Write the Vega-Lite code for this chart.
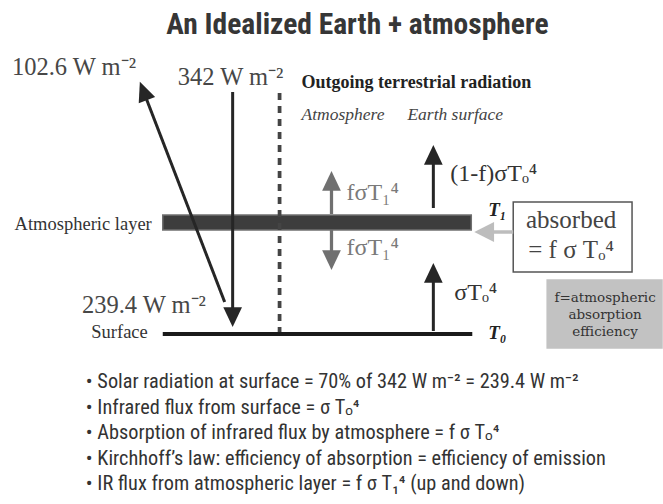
{
  "$schema": "https://vega.github.io/schema/vega-lite/v6.json",
  "width": 663,
  "height": 504,
  "autosize": {"type": "fit", "contains": "padding"},
  "padding": 0,
  "background": "#ffffff",
  "config": {"view": {"stroke": null}},
  "layer": [
    {
      "data": {"values": [
        {"name": "atmospheric layer", "x": 163, "x2": 472, "y": 215, "y2": 230},
        {"name": "absorbed box", "x": 514, "x2": 633, "y": 202, "y2": 272},
        {"name": "note box", "x": 548, "x2": 663, "y": 280, "y2": 348}
      ]},
      "mark": {"type": "rect", "strokeWidth": 1.5},
      "encoding": {
        "x": {"field": "x", "type": "quantitative", "scale": {"domain": [0, 663], "nice": false, "zero": false}, "axis": null},
        "x2": {"field": "x2"},
        "y": {"field": "y", "type": "quantitative", "scale": {"domain": [504, 0], "nice": false, "zero": false}, "axis": null},
        "y2": {"field": "y2"},
        "fill": {"field": "name", "type": "nominal", "scale": {"domain": ["atmospheric layer", "absorbed box", "note box"], "range": ["#3d3d3d", "#ffffff", "#c2c2c2"]}, "legend": null},
        "stroke": {"field": "name", "type": "nominal", "scale": {"domain": ["atmospheric layer", "absorbed box", "note box"], "range": ["#707070", "#555555", "#c2c2c2"]}, "legend": null}
      }
    },
    {
      "data": {"values": [
        {"id": "reflected", "kind": "solid", "x": 225, "y": 302, "x2": 145.5, "y2": 96},
        {"id": "incoming", "kind": "solid", "x": 233, "y": 92, "x2": 233, "y2": 312},
        {"id": "divider", "kind": "dashed", "x": 280, "y": 93, "x2": 280, "y2": 334},
        {"id": "atmosphere up", "kind": "gray", "x": 332, "y": 214, "x2": 332, "y2": 186},
        {"id": "atmosphere down", "kind": "gray", "x": 332, "y": 230, "x2": 332, "y2": 255},
        {"id": "escape", "kind": "solid", "x": 434, "y": 208, "x2": 434, "y2": 160},
        {"id": "surface up", "kind": "solid", "x": 434, "y": 331, "x2": 434, "y2": 278},
        {"id": "absorbed", "kind": "light", "x": 514, "y": 232, "x2": 490, "y2": 232},
        {"id": "surface", "kind": "surface", "x": 163, "y": 334, "x2": 473, "y2": 334}
      ]},
      "mark": {"type": "rule"},
      "encoding": {
        "x": {"field": "x", "type": "quantitative", "scale": {"domain": [0, 663], "nice": false, "zero": false}, "axis": null},
        "x2": {"field": "x2"},
        "y": {"field": "y", "type": "quantitative", "scale": {"domain": [504, 0], "nice": false, "zero": false}, "axis": null},
        "y2": {"field": "y2"},
        "color": {"field": "kind", "type": "nominal", "scale": {"domain": ["solid", "gray", "light", "dashed", "surface"], "range": ["#262626", "#707070", "#bdbdbd", "#444444", "#1a1a1a"]}, "legend": null},
        "strokeWidth": {"field": "kind", "type": "nominal", "scale": {"domain": ["solid", "gray", "light", "dashed", "surface"], "range": [3, 4, 4, 1.5, 4]}, "legend": null},
        "strokeDash": {"field": "kind", "type": "nominal", "scale": {"domain": ["solid", "gray", "light", "dashed", "surface"], "range": [[1, 0], [1, 0], [1, 0], [7, 6], [1, 0]]}, "legend": null}
      }
    },
    {
      "data": {"values": [
        {"id": "reflected", "kind": "solid", "dir": "diag", "x": 144, "y": 92},
        {"id": "incoming", "kind": "solid", "dir": "down", "x": 233, "y": 316},
        {"id": "atmosphere up", "kind": "gray", "dir": "up", "x": 332, "y": 182},
        {"id": "atmosphere down", "kind": "gray", "dir": "down", "x": 332, "y": 259},
        {"id": "escape", "kind": "solid", "dir": "up", "x": 434, "y": 156},
        {"id": "surface up", "kind": "solid", "dir": "up", "x": 434, "y": 274},
        {"id": "absorbed", "kind": "light", "dir": "left", "x": 486, "y": 232}
      ]},
      "mark": {"type": "point", "filled": true, "opacity": 1, "size": 484},
      "encoding": {
        "x": {"field": "x", "type": "quantitative", "scale": {"domain": [0, 663], "nice": false, "zero": false}, "axis": null},
        "y": {"field": "y", "type": "quantitative", "scale": {"domain": [504, 0], "nice": false, "zero": false}, "axis": null},
        "color": {"field": "kind", "type": "nominal", "scale": {"domain": ["solid", "gray", "light", "dashed", "surface"], "range": ["#262626", "#707070", "#bdbdbd", "#444444", "#1a1a1a"]}, "legend": null},
        "shape": {"field": "dir", "type": "nominal", "scale": {"domain": ["up", "down", "left", "diag"], "range": ["M0,-1L0.85,0.8L-0.85,0.8Z", "M0,1L0.85,-0.8L-0.85,-0.8Z", "M-1,0L0.8,-0.9L0.8,0.9Z", "M-0.358,-0.934L1.034,0.46L-0.46,1.034Z"]}, "legend": null}
      }
    },
    {
      "data": {"values": [{"label": "An Idealized Earth + atmosphere", "x": 358, "y": 25}]},
      "mark": {"type": "text", "font": "Liberation Sans Narrow, Roboto Condensed, Liberation Sans", "fontSize": 29.5, "fontWeight": "bold", "color": "#363636", "align": "center", "baseline": "middle"},
      "encoding": {
        "x": {"field": "x", "type": "quantitative", "scale": {"domain": [0, 663], "nice": false, "zero": false}, "axis": null},
        "y": {"field": "y", "type": "quantitative", "scale": {"domain": [504, 0], "nice": false, "zero": false}, "axis": null},
        "text": {"field": "label"}
      }
    },
    {
      "data": {"values": [
        {"label": "102.6 W m⁻²", "x": 12, "y": 68},
        {"label": "342 W m⁻²", "x": 178, "y": 78},
        {"label": "239.4 W m⁻²", "x": 82, "y": 306}
      ]},
      "mark": {"type": "text", "font": "Liberation Serif", "fontSize": 24.5, "color": "#474747", "align": "left", "baseline": "middle"},
      "encoding": {
        "x": {"field": "x", "type": "quantitative", "scale": {"domain": [0, 663], "nice": false, "zero": false}, "axis": null},
        "y": {"field": "y", "type": "quantitative", "scale": {"domain": [504, 0], "nice": false, "zero": false}, "axis": null},
        "text": {"field": "label"}
      }
    },
    {
      "data": {"values": [
        {"label": "Atmospheric layer", "x": 152, "y": 224},
        {"label": "Surface", "x": 148, "y": 332}
      ]},
      "mark": {"type": "text", "font": "Liberation Serif", "fontSize": 18.5, "color": "#333333", "align": "right", "baseline": "middle"},
      "encoding": {
        "x": {"field": "x", "type": "quantitative", "scale": {"domain": [0, 663], "nice": false, "zero": false}, "axis": null},
        "y": {"field": "y", "type": "quantitative", "scale": {"domain": [504, 0], "nice": false, "zero": false}, "axis": null},
        "text": {"field": "label"}
      }
    },
    {
      "data": {"values": [{"label": "Outgoing terrestrial radiation", "x": 302, "y": 83}]},
      "mark": {"type": "text", "font": "Liberation Serif", "fontSize": 18, "fontWeight": "bold", "color": "#222222", "align": "left", "baseline": "middle"},
      "encoding": {
        "x": {"field": "x", "type": "quantitative", "scale": {"domain": [0, 663], "nice": false, "zero": false}, "axis": null},
        "y": {"field": "y", "type": "quantitative", "scale": {"domain": [504, 0], "nice": false, "zero": false}, "axis": null},
        "text": {"field": "label"}
      }
    },
    {
      "data": {"values": [
        {"label": "Atmosphere", "x": 302, "y": 115},
        {"label": "Earth surface", "x": 408, "y": 115}
      ]},
      "mark": {"type": "text", "font": "Liberation Serif", "fontSize": 17.5, "fontStyle": "italic", "color": "#444444", "align": "left", "baseline": "middle"},
      "encoding": {
        "x": {"field": "x", "type": "quantitative", "scale": {"domain": [0, 663], "nice": false, "zero": false}, "axis": null},
        "y": {"field": "y", "type": "quantitative", "scale": {"domain": [504, 0], "nice": false, "zero": false}, "axis": null},
        "text": {"field": "label"}
      }
    },
    {
      "data": {"values": [
        {"label": "fσT₁⁴", "x": 347, "y": 193},
        {"label": "fσT₁⁴", "x": 347, "y": 248}
      ]},
      "mark": {"type": "text", "font": "Liberation Serif", "fontSize": 24, "color": "#7a7a7a", "align": "left", "baseline": "middle"},
      "encoding": {
        "x": {"field": "x", "type": "quantitative", "scale": {"domain": [0, 663], "nice": false, "zero": false}, "axis": null},
        "y": {"field": "y", "type": "quantitative", "scale": {"domain": [504, 0], "nice": false, "zero": false}, "axis": null},
        "text": {"field": "label"}
      }
    },
    {
      "data": {"values": [
        {"label": "(1-f)σTₒ⁴", "x": 451, "y": 174},
        {"label": "σTₒ⁴", "x": 455, "y": 293}
      ]},
      "mark": {"type": "text", "font": "Liberation Serif", "fontSize": 24, "color": "#333333", "align": "left", "baseline": "middle"},
      "encoding": {
        "x": {"field": "x", "type": "quantitative", "scale": {"domain": [0, 663], "nice": false, "zero": false}, "axis": null},
        "y": {"field": "y", "type": "quantitative", "scale": {"domain": [504, 0], "nice": false, "zero": false}, "axis": null},
        "text": {"field": "label"}
      }
    },
    {
      "data": {"values": [
        {"label": "T₁", "x": 489, "y": 210},
        {"label": "T₀", "x": 489, "y": 333}
      ]},
      "mark": {"type": "text", "font": "Liberation Serif", "fontSize": 19, "fontStyle": "italic", "fontWeight": "bold", "color": "#222222", "align": "left", "baseline": "middle"},
      "encoding": {
        "x": {"field": "x", "type": "quantitative", "scale": {"domain": [0, 663], "nice": false, "zero": false}, "axis": null},
        "y": {"field": "y", "type": "quantitative", "scale": {"domain": [504, 0], "nice": false, "zero": false}, "axis": null},
        "text": {"field": "label"}
      }
    },
    {
      "data": {"values": [
        {"label": "absorbed", "x": 572, "y": 220},
        {"label": "= f σ Tₒ⁴", "x": 572, "y": 250}
      ]},
      "mark": {"type": "text", "font": "Liberation Serif", "fontSize": 25, "color": "#444444", "align": "center", "baseline": "middle"},
      "encoding": {
        "x": {"field": "x", "type": "quantitative", "scale": {"domain": [0, 663], "nice": false, "zero": false}, "axis": null},
        "y": {"field": "y", "type": "quantitative", "scale": {"domain": [504, 0], "nice": false, "zero": false}, "axis": null},
        "text": {"field": "label"}
      }
    },
    {
      "data": {"values": [
        {"label": "f=atmospheric", "x": 606, "y": 298},
        {"label": "absorption", "x": 606, "y": 315},
        {"label": "efficiency", "x": 606, "y": 332}
      ]},
      "mark": {"type": "text", "font": "DejaVu Serif", "fontSize": 13.5, "color": "#333333", "align": "center", "baseline": "middle"},
      "encoding": {
        "x": {"field": "x", "type": "quantitative", "scale": {"domain": [0, 663], "nice": false, "zero": false}, "axis": null},
        "y": {"field": "y", "type": "quantitative", "scale": {"domain": [504, 0], "nice": false, "zero": false}, "axis": null},
        "text": {"field": "label"}
      }
    },
    {
      "data": {"values": [
        {"label": "• Solar radiation at surface = 70% of 342 W m⁻² = 239.4 W m⁻²", "x": 86, "y": 382},
        {"label": "• Infrared flux from surface = σ Tₒ⁴", "x": 86, "y": 407.5},
        {"label": "• Absorption of infrared flux by atmosphere = f σ Tₒ⁴", "x": 86, "y": 433},
        {"label": "• Kirchhoff’s law: efficiency of absorption = efficiency of emission", "x": 86, "y": 458.5},
        {"label": "• IR flux from atmospheric layer = f σ T₁⁴ (up and down)", "x": 86, "y": 484}
      ]},
      "mark": {"type": "text", "font": "Liberation Sans Narrow, Roboto Condensed, Liberation Sans", "fontSize": 20.3, "color": "#333333", "align": "left", "baseline": "middle"},
      "encoding": {
        "x": {"field": "x", "type": "quantitative", "scale": {"domain": [0, 663], "nice": false, "zero": false}, "axis": null},
        "y": {"field": "y", "type": "quantitative", "scale": {"domain": [504, 0], "nice": false, "zero": false}, "axis": null},
        "text": {"field": "label"}
      }
    }
  ]
}
